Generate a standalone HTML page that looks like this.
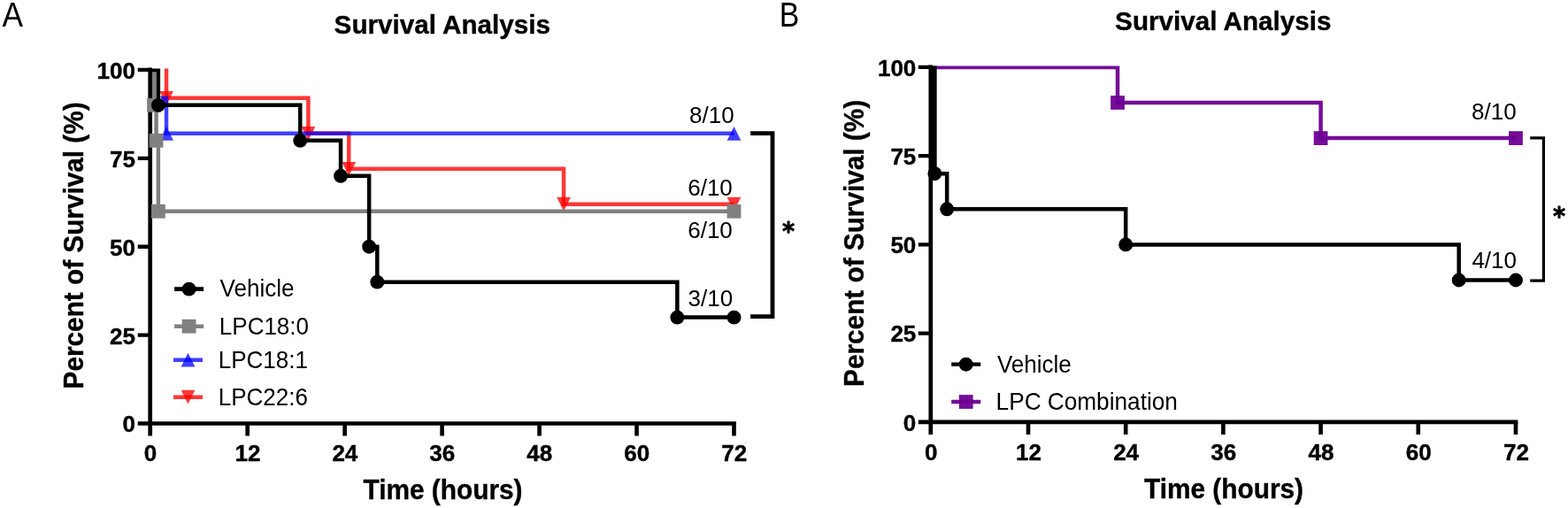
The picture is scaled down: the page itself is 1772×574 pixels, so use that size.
<!DOCTYPE html>
<html lang="en">
<head>
<meta charset="utf-8">
<title>Survival Analysis</title>
<style>
html,body{margin:0;padding:0;background:#fff;}
body{width:1772px;height:574px;overflow:hidden;}
svg{display:block;font-family:"Liberation Sans",Arial,Helvetica,sans-serif;}
text{fill:#000;}
</style>
</head>
<body>
<svg width="1772" height="574" viewBox="0 0 1772 574">
<rect width="1772" height="574" fill="#fff"/>
<defs><clipPath id="clipA"><rect x="160" y="77.5" width="700" height="420"/></clipPath><clipPath id="clipB"><rect x="1040" y="74.5" width="700" height="420"/></clipPath></defs>
<!-- Panel A -->
<g id="panelA">
<text transform="translate(2.4 30.3) scale(0.94 1.03)" font-size="37.5">A</text>
<text transform="translate(499.8 37.5) scale(1 1.02)" font-size="29.65" font-weight="bold" stroke="#000" stroke-width="0.35" text-anchor="middle">Survival Analysis</text>
<text transform="translate(93.8 277.4) rotate(-90) scale(1 1.05)" font-size="29.75" font-weight="bold" stroke="#000" stroke-width="0.35" text-anchor="middle">Percent of Survival (%)</text>
<text transform="translate(500.5 564.4) scale(1 1.02)" font-size="29.85" font-weight="bold" stroke="#000" stroke-width="0.35" text-anchor="middle">Time (hours)</text>
<g stroke="#000" stroke-width="4.7" fill="none" stroke-linecap="butt">
<path d="M169.7 76.55 V492.5"/>
<path d="M155.7 478.5 H831.86"/>
<path d="M155.7 378.6H169.7M155.7 278.7H169.7M155.7 178.8H169.7M155.7 78.9H169.7" stroke-width="4.35"/>
<path d="M279.67 478.5V492.5M389.64 478.5V492.5M499.6 478.5V492.5M609.57 478.5V492.5M719.54 478.5V492.5M829.51 478.5V492.5" stroke-width="4.6"/>
</g>
<g font-size="26" font-weight="bold" text-anchor="end" stroke="#000" stroke-width="0.4">
<text transform="translate(153 488.4) scale(1 1.02)">0</text>
<text transform="translate(153 388.5) scale(1 1.02)">25</text>
<text transform="translate(153 288.6) scale(1 1.02)">50</text>
<text transform="translate(153 188.7) scale(1 1.02)">75</text>
<text transform="translate(153 88.8) scale(1 1.02)">100</text>
</g>
<g font-size="26" font-weight="bold" text-anchor="middle" stroke="#000" stroke-width="0.4">
<text transform="translate(169.9 521.1) scale(1 1.02)">0</text>
<text transform="translate(279.87 521.1) scale(1 1.02)">12</text>
<text transform="translate(389.84 521.1) scale(1 1.02)">24</text>
<text transform="translate(499.8 521.1) scale(1 1.02)">36</text>
<text transform="translate(609.77 521.1) scale(1 1.02)">48</text>
<text transform="translate(719.74 521.1) scale(1 1.02)">60</text>
<text transform="translate(829.71 521.1) scale(1 1.02)">72</text>
</g>
<g clip-path="url(#clipA)">
<g id="red">
<path d="M188.03 74.9L188.03 110.87L348.4 110.87L348.4 150.83L394.22 150.83L394.22 190.79L637.06 190.79L637.06 230.75L829.51 230.75" stroke="rgb(255,0,0)" stroke-opacity="0.78" stroke-width="4.5" fill="none" stroke-linejoin="miter" stroke-linecap="butt"/>
<path d="M180.13 102.97L195.93 102.97L188.03 118.77Z" fill="rgb(255,0,0)" fill-opacity="0.78"/>
<path d="M340.5 142.93L356.3 142.93L348.4 158.73Z" fill="rgb(255,0,0)" fill-opacity="0.78"/>
<path d="M386.32 182.89L402.12 182.89L394.22 198.69Z" fill="rgb(255,0,0)" fill-opacity="0.78"/>
<path d="M629.16 222.85L644.96 222.85L637.06 238.65Z" fill="rgb(255,0,0)" fill-opacity="0.78"/>
<path d="M821.61 222.85L837.41 222.85L829.51 238.65Z" fill="rgb(255,0,0)" fill-opacity="0.78"/>
</g>
<g id="blue">
<path d="M188.03 108.47L188.03 150.83L829.51 150.83" stroke="rgb(0,0,255)" stroke-opacity="0.75" stroke-width="4.5" fill="none" stroke-linejoin="miter" stroke-linecap="butt"/>
<path d="M181 108.8H185.8V116.4Z" fill="rgb(0,0,255)" fill-opacity="0.92"/>
<path d="M188.03 142.93L195.93 158.73L180.13 158.73Z" fill="rgb(0,0,255)" fill-opacity="0.75"/>
<path d="M829.51 142.93L837.41 158.73L821.61 158.73Z" fill="rgb(0,0,255)" fill-opacity="0.75"/>
</g>
<g id="gray">
<path d="M174.28 78.9L174.28 118.86L176.57 118.86L176.57 158.82L178.86 158.82L178.86 238.74L829.51 238.74" stroke="rgb(128,128,128)" stroke-width="4.5" fill="none" stroke-linejoin="miter" stroke-linecap="butt"/>
<rect x="166.11" y="110.96" width="15.8" height="15.8" fill="rgb(128,128,128)"/>
<rect x="168.67" y="150.92" width="15.8" height="15.8" fill="rgb(128,128,128)"/>
<rect x="170.96" y="230.84" width="15.8" height="15.8" fill="rgb(128,128,128)"/>
<rect x="821.61" y="230.84" width="15.8" height="15.8" fill="rgb(128,128,128)"/>
</g>
<g id="black">
<path d="M169.7 78.9L178.86 78.9L178.86 118.86L339.23 118.86L339.23 158.82L385.05 158.82L385.05 198.78L417.13 198.78L417.13 278.7L426.29 278.7L426.29 318.66L765.36 318.66L765.36 358.62L829.51 358.62" stroke="#000" stroke-width="4.5" fill="none" stroke-linejoin="miter" stroke-linecap="butt"/>
<circle cx="178.86" cy="118.86" r="7.95" fill="#000"/>
<circle cx="339.23" cy="158.82" r="7.95" fill="#000"/>
<circle cx="385.05" cy="198.78" r="7.95" fill="#000"/>
<circle cx="417.13" cy="278.7" r="7.95" fill="#000"/>
<circle cx="426.29" cy="318.66" r="7.95" fill="#000"/>
<circle cx="765.36" cy="358.62" r="7.95" fill="#000"/>
<circle cx="829.51" cy="358.62" r="7.95" fill="#000"/>
</g>
</g>
<text transform="translate(779 139.4) scale(1 1.01)" font-size="26">8/10</text>
<text transform="translate(777.2 220.7) scale(1 1.01)" font-size="26">6/10</text>
<text transform="translate(777.2 269.3) scale(1 1.01)" font-size="26">6/10</text>
<text transform="translate(777.6 346.1) scale(1 1.01)" font-size="26">3/10</text>
<path d="M848.1 150.7H873V357.6H848.1" stroke="#000" stroke-width="4.8" fill="none"/>
<text transform="translate(883.9 271.1) scale(0.94 1)" font-family="'DejaVu Sans','Liberation Sans',sans-serif" font-size="28.6" font-weight="bold" stroke="#000" stroke-width="0.8" stroke-linejoin="round">*</text>
<g id="legendA">
<path d="M197.1 326.6H230.1" stroke="#000" stroke-width="4.6"/>
<circle cx="213.6" cy="326.6" r="7.95" fill="#000"/>
<text transform="translate(248.6 335.4) scale(1 1.04)" font-size="26">Vehicle</text>
<path d="M197.1 368.7H230.1" stroke="rgb(128,128,128)" stroke-width="4.6"/>
<rect x="205.7" y="360.8" width="15.8" height="15.8" fill="rgb(128,128,128)"/>
<text transform="translate(247.85 377.5) scale(1 1.04)" font-size="26">LPC18:0</text>
<path d="M196 406.7H229" stroke="rgb(0,0,255)" stroke-opacity="0.75" stroke-width="4.6"/>
<path d="M212.5 398.8L220.4 414.6L204.6 414.6Z" fill="rgb(0,0,255)" fill-opacity="0.75"/>
<text transform="translate(246.75 415.5) scale(1 1.04)" font-size="26">LPC18:1</text>
<path d="M196 448.7H229" stroke="rgb(255,0,0)" stroke-opacity="0.78" stroke-width="4.6"/>
<path d="M204.6 440.8L220.4 440.8L212.5 456.6Z" fill="rgb(255,0,0)" fill-opacity="0.78"/>
<text transform="translate(246.75 457.5) scale(1 1.04)" font-size="26">LPC22:6</text>
</g>
</g>
<!-- Panel B -->
<g id="panelB">
<text transform="translate(880.8 29.7) scale(0.9 1.035)" font-size="37.5">B</text>
<text transform="translate(1382.3 34) scale(1 1.02)" font-size="29.65" font-weight="bold" stroke="#000" stroke-width="0.35" text-anchor="middle">Survival Analysis</text>
<text transform="translate(975.7 274.9) rotate(-90) scale(1 1.05)" font-size="29.75" font-weight="bold" stroke="#000" stroke-width="0.35" text-anchor="middle">Percent of Survival (%)</text>
<text transform="translate(1383 563.2) scale(1 1.02)" font-size="29.85" font-weight="bold" stroke="#000" stroke-width="0.35" text-anchor="middle">Time (hours)</text>
<g stroke="#000" stroke-width="4.7" fill="none" stroke-linecap="butt">
<path d="M1051.8 73.55 V490.9"/>
<path d="M1037.8 476.9 H1715.33"/>
<path d="M1037.8 376.65H1051.8M1037.8 276.4H1051.8M1037.8 176.15H1051.8M1037.8 75.9H1051.8" stroke-width="4.35"/>
<path d="M1162 476.9V490.9M1272.19 476.9V490.9M1382.39 476.9V490.9M1492.58 476.9V490.9M1602.78 476.9V490.9M1712.98 476.9V490.9" stroke-width="4.6"/>
</g>
<g font-size="26" font-weight="bold" text-anchor="end" stroke="#000" stroke-width="0.4">
<text transform="translate(1035.3 486.65) scale(1 1.02)">0</text>
<text transform="translate(1035.3 386.4) scale(1 1.02)">25</text>
<text transform="translate(1035.3 286.15) scale(1 1.02)">50</text>
<text transform="translate(1035.3 185.9) scale(1 1.02)">75</text>
<text transform="translate(1035.3 85.65) scale(1 1.02)">100</text>
</g>
<g font-size="26" font-weight="bold" text-anchor="middle" stroke="#000" stroke-width="0.4">
<text transform="translate(1052.2 519.7) scale(1 1.02)">0</text>
<text transform="translate(1162.4 519.7) scale(1 1.02)">12</text>
<text transform="translate(1272.59 519.7) scale(1 1.02)">24</text>
<text transform="translate(1382.79 519.7) scale(1 1.02)">36</text>
<text transform="translate(1492.98 519.7) scale(1 1.02)">48</text>
<text transform="translate(1603.18 519.7) scale(1 1.02)">60</text>
<text transform="translate(1713.38 519.7) scale(1 1.02)">72</text>
</g>
<g clip-path="url(#clipB)">
<g id="purple">
<path d="M1056.39 75.9L1263.01 75.9L1263.01 116L1492.58 116L1492.58 156.1L1712.98 156.1" stroke="rgb(109,0,146)" opacity="0.95" stroke-width="4.5" fill="none" stroke-linejoin="miter" stroke-linecap="butt"/>
<rect x="1255.11" y="108.1" width="15.8" height="15.8" fill="rgb(109,0,146)" opacity="0.95"/>
<rect x="1484.68" y="148.2" width="15.8" height="15.8" fill="rgb(109,0,146)" opacity="0.95"/>
<rect x="1705.08" y="148.2" width="15.8" height="15.8" fill="rgb(109,0,146)" opacity="0.95"/>
</g>
<g id="blackB">
<path d="M1056.39 71.89L1056.39 196.2L1070.17 196.2L1070.17 236.3L1272.19 236.3L1272.19 276.4L1648.69 276.4L1648.69 316.5L1712.98 316.5" stroke="#000" stroke-width="4.5" fill="none" stroke-linejoin="miter" stroke-linecap="butt"/>
<circle cx="1056.39" cy="196.2" r="7.95" fill="#000"/>
<circle cx="1070.17" cy="236.3" r="7.95" fill="#000"/>
<circle cx="1272.19" cy="276.4" r="7.95" fill="#000"/>
<circle cx="1648.69" cy="316.5" r="7.95" fill="#000"/>
<circle cx="1712.98" cy="316.5" r="7.95" fill="#000"/>
<path d="M1054.6 74.5V196" stroke="#000" stroke-width="2"/>
</g>
</g>
<text transform="translate(1663 134.9) scale(1 1.01)" font-size="26">8/10</text>
<text transform="translate(1663.4 302.9) scale(1 1.01)" font-size="26">4/10</text>
<path d="M1729.2 155.9H1744.4V317.1H1729.2" stroke="#000" stroke-width="3.2" fill="none"/>
<text transform="translate(1755.0 253.6) scale(0.94 1)" font-family="'DejaVu Sans','Liberation Sans',sans-serif" font-size="28.6" font-weight="bold" stroke="#000" stroke-width="0.8" stroke-linejoin="round">*</text>
<g id="legendB">
<path d="M1075.2 411.7H1108.2" stroke="#000" stroke-width="4.3"/>
<circle cx="1091.7" cy="411.7" r="7.95" fill="#000"/>
<text transform="translate(1126.9 420.5) scale(1 1.04)" font-size="26">Vehicle</text>
<path d="M1075.2 454H1108.2" stroke="rgb(109,0,146)" opacity="0.95" stroke-width="4.3"/>
<rect x="1083.8" y="446.1" width="15.8" height="15.8" fill="rgb(109,0,146)" opacity="0.95"/>
<text transform="translate(1125.6 462.8) scale(1 1.04)" font-size="26.2">LPC Combination</text>
</g>
</g>
</svg>
</body>
</html>
